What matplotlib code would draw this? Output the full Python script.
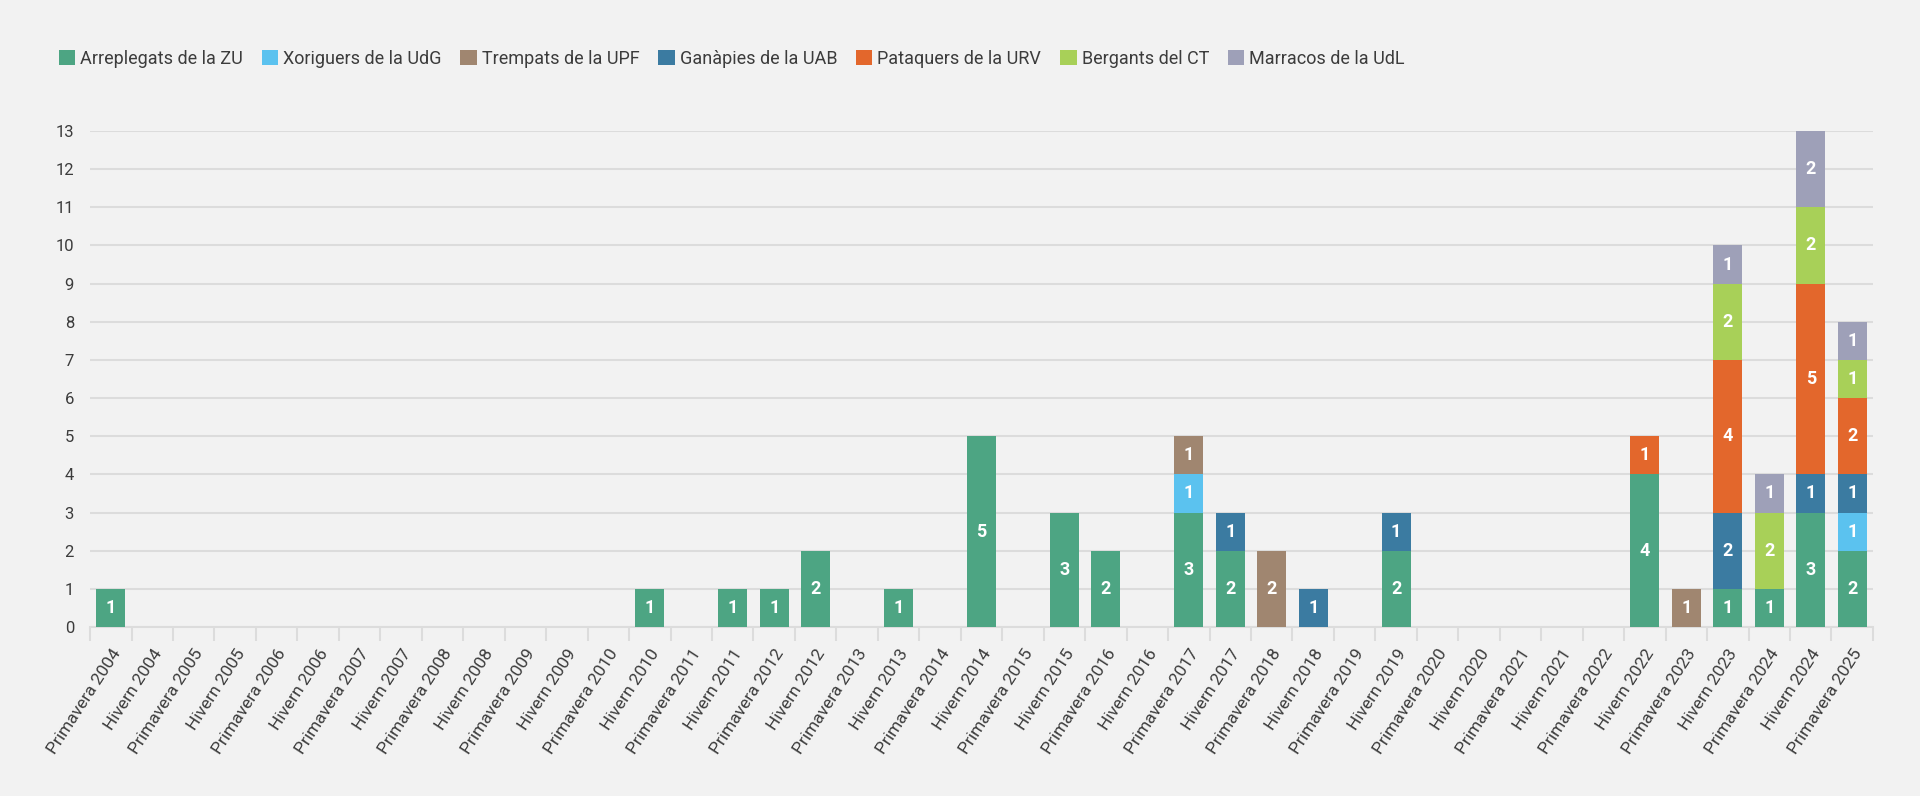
import numpy as np
import matplotlib
matplotlib.use("Agg")
import matplotlib.pyplot as plt
from matplotlib.ticker import FixedLocator

plt.rcParams['font.family'] = ['Roboto', 'DejaVu Sans']

# Categories: Primavera/Hivern from 2004 to Primavera 2025
periods = []
for year in range(2004, 2025):
    periods.append("Primavera %d" % year)
    periods.append("Hivern %d" % year)
periods.append("Primavera 2025")

series_names = ["Arreplegats de la ZU", "Xoriguers de la UdG", "Trempats de la UPF",
                "Ganàpies de la UAB", "Pataquers de la URV", "Bergants del CT",
                "Marracos de la UdL"]
colors = ["#4da583", "#5bc2ef", "#a08670", "#3b7ba1", "#e3672c", "#a8d058", "#9ea0b8"]

# Values per period (non-zero entries only)
zu = {"Primavera 2004": 1, "Hivern 2010": 1, "Hivern 2011": 1, "Primavera 2012": 1,
      "Hivern 2012": 2, "Hivern 2013": 1, "Hivern 2014": 5, "Hivern 2015": 3,
      "Primavera 2016": 2, "Primavera 2017": 3, "Hivern 2017": 2, "Hivern 2019": 2,
      "Hivern 2022": 4, "Hivern 2023": 1, "Primavera 2024": 1, "Hivern 2024": 3,
      "Primavera 2025": 2}
udg = {"Primavera 2017": 1, "Primavera 2025": 1}
upf = {"Primavera 2017": 1, "Primavera 2018": 2, "Primavera 2023": 1}
uab = {"Hivern 2017": 1, "Hivern 2018": 1, "Hivern 2019": 1, "Hivern 2023": 2,
       "Hivern 2024": 1, "Primavera 2025": 1}
urv = {"Hivern 2022": 1, "Hivern 2023": 4, "Hivern 2024": 5, "Primavera 2025": 2}
ct = {"Hivern 2023": 2, "Primavera 2024": 2, "Hivern 2024": 2, "Primavera 2025": 1}
udl = {"Hivern 2023": 1, "Primavera 2024": 1, "Hivern 2024": 2, "Primavera 2025": 1}

all_series = [zu, udg, upf, uab, urv, ct, udl]

text_col = "#3c3c3c"
bg = "#f2f2f2"

fig = plt.figure(figsize=(19.2, 7.96), dpi=100, facecolor=bg)
ax = fig.add_axes([0.0469, 0.2123, 0.9286, 0.6231], facecolor=bg)

x = np.arange(len(periods))
bottom = np.zeros(len(periods))
for name, data, col in zip(series_names, all_series, colors):
    vals = np.array([data.get(p, 0) for p in periods], dtype=float)
    bars = ax.bar(x, vals, 0.7, bottom=bottom, color=col, label=name, zorder=3)
    labels = ["%d" % v if v > 0 else "" for v in vals]
    ax.bar_label(bars, labels=labels, label_type='center', color='white',
                 fontsize=13, fontweight='bold', zorder=4)
    bottom += vals

ax.set_xlim(-0.5, len(periods) - 0.5)
ax.set_ylim(0, 13)
ax.set_yticks(range(0, 14))
ax.yaxis.grid(True, color="#dcdcdc", linewidth=1.5, zorder=0)
ax.set_axisbelow(True)
for s in ["top", "right", "left"]:
    ax.spines[s].set_visible(False)
ax.spines["bottom"].set_color("#dcdcdc")
ax.spines["bottom"].set_linewidth(1.5)

ax.set_xticks(x)
ax.set_xticklabels(periods, rotation=57, ha='right', rotation_mode='anchor')
ax.xaxis.set_minor_locator(FixedLocator(np.arange(-0.5, len(periods), 1.0)))
ax.tick_params(axis='x', which='major', length=0, pad=14, labelsize=12.5, labelcolor=text_col)
ax.tick_params(axis='x', which='minor', length=10, width=1.5, color="#dcdcdc")
ax.tick_params(axis='y', length=0, pad=11.5, labelsize=12, labelcolor=text_col)

fig.legend(loc='center left', bbox_to_anchor=(0.0221, 0.926), ncol=7, frameon=False,
           fontsize=13, handlelength=0.9, handleheight=0.9, handletextpad=0.28,
           columnspacing=1.05, labelcolor=text_col)

fig.savefig("out.png", dpi=100, facecolor=bg)
